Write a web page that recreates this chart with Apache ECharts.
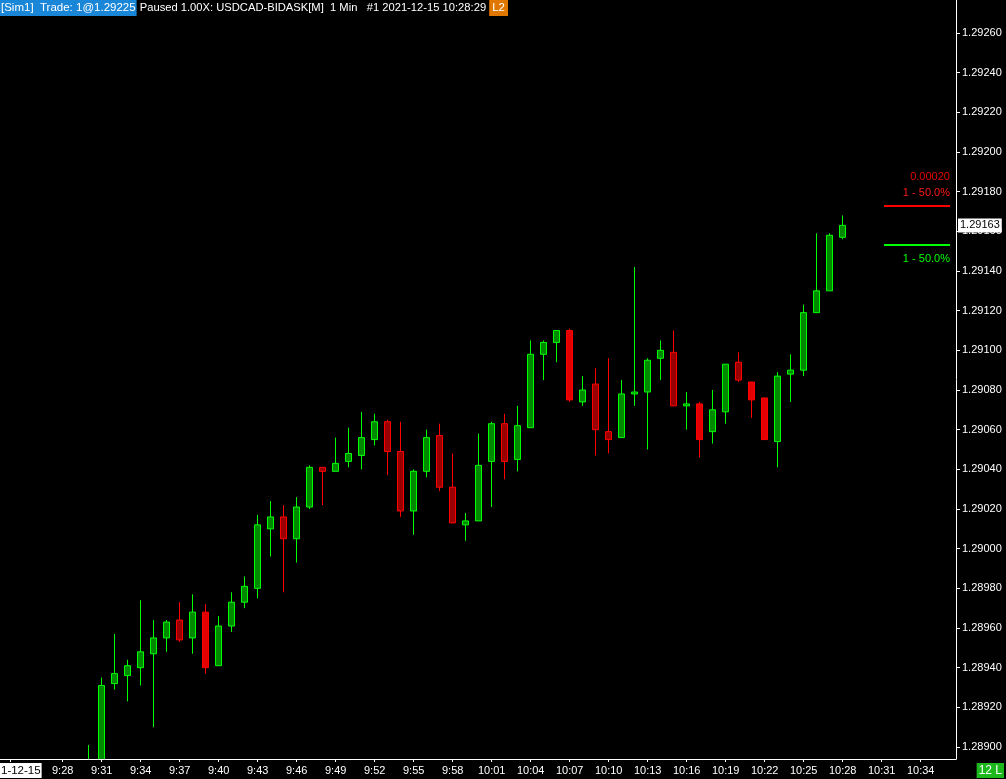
<!DOCTYPE html>
<html lang="en">
<head>
<meta charset="UTF-8">
<title>USDCAD-BIDASK 1 Min</title>
<script src="https://cdn.jsdelivr.net/npm/echarts@6/dist/echarts.min.js"></script>
<style>
html, body {margin: 0; padding: 0; background: #000;}
#main {width: 1006px; height: 779px;}
</style>
</head>
<body>
<div id="main"></div>
<script>
// one bar per minute, 9:30 .. 10:28
var times = ['9:30','9:31','9:32','9:33','9:34','9:35','9:36','9:37','9:38','9:39',
    '9:40','9:41','9:42','9:43','9:44','9:45','9:46','9:47','9:48','9:49',
    '9:50','9:51','9:52','9:53','9:54','9:55','9:56','9:57','9:58','9:59',
    '10:00','10:01','10:02','10:03','10:04','10:05','10:06','10:07','10:08','10:09',
    '10:10','10:11','10:12','10:13','10:14','10:15','10:16','10:17','10:18','10:19',
    '10:20','10:21','10:22','10:23','10:24','10:25','10:26','10:27','10:28'];
var opens = [1.28870,1.28884,1.28932,1.28936,1.28940,1.28947,1.28955,1.28964,1.28955,1.28968,
    1.28941,1.28961,1.28973,1.28980,1.29010,1.29016,1.29005,1.29021,1.29041,1.29039,
    1.29044,1.29047,1.29055,1.29064,1.29049,1.29019,1.29039,1.29057,1.29031,1.29012,
    1.29014,1.29044,1.29063,1.29045,1.29061,1.29098,1.29104,1.29110,1.29074,1.29083,
    1.29059,1.29056,1.29078,1.29079,1.29096,1.29099,1.29072,1.29073,1.29059,1.29069,
    1.29094,1.29084,1.29076,1.29054,1.29088,1.29090,1.29119,1.29130,1.29157];
var closes = [1.28885,1.28931,1.28937,1.28941,1.28948,1.28955,1.28963,1.28954,1.28968,1.28940,
    1.28961,1.28973,1.28981,1.29012,1.29016,1.29005,1.29021,1.29041,1.29039,1.29043,
    1.29048,1.29056,1.29064,1.29049,1.29019,1.29039,1.29056,1.29031,1.29013,1.29014,
    1.29042,1.29063,1.29044,1.29062,1.29098,1.29104,1.29110,1.29075,1.29080,1.29060,
    1.29055,1.29078,1.29079,1.29095,1.29100,1.29072,1.29073,1.29055,1.29070,1.29093,
    1.29085,1.29075,1.29055,1.29087,1.29090,1.29119,1.29130,1.29158,1.29163];
var lows = [1.28860,1.28880,1.28929,1.28923,1.28931,1.28910,1.28948,1.28953,1.28947,1.28937,
    1.28941,1.28958,1.28970,1.28975,1.28996,1.28978,1.28993,1.29020,1.29022,1.29039,
    1.29041,1.29040,1.29052,1.29037,1.29016,1.29007,1.29036,1.29029,1.29013,1.29004,
    1.29014,1.29021,1.29035,1.29039,1.29061,1.29085,1.29094,1.29074,1.29072,1.29047,
    1.29048,1.29056,1.29072,1.29050,1.29085,1.29072,1.29060,1.29046,1.29053,1.29063,
    1.29084,1.29066,1.29055,1.29041,1.29074,1.29087,1.29119,1.29130,1.29156];
var highs = [1.28901,1.28935,1.28957,1.28944,1.28974,1.28964,1.28964,1.28973,1.28977,1.28972,
    1.28966,1.28978,1.28986,1.29017,1.29024,1.29022,1.29026,1.29042,1.29041,1.29056,
    1.29061,1.29069,1.29068,1.29065,1.29064,1.29040,1.29060,1.29063,1.29048,1.29018,
    1.29058,1.29064,1.29068,1.29072,1.29105,1.29105,1.29110,1.29111,1.29087,1.29091,
    1.29096,1.29085,1.29142,1.29096,1.29105,1.29110,1.29079,1.29074,1.29080,1.29093,
    1.29099,1.29084,1.29076,1.29089,1.29098,1.29123,1.29159,1.29159,1.29168];

var xTickLabels = ['9:28','9:31','9:34','9:37','9:40','9:43','9:46','9:49','9:52','9:55','9:58',
    '10:01','10:04','10:07','10:10','10:13','10:16','10:19','10:22','10:25','10:28','10:31','10:34'];
var dateTick = '9:24';
var yTickLabels = ['1.28900','1.28920','1.28940','1.28960','1.28980','1.29000','1.29020','1.29040',
    '1.29060','1.29080','1.29100','1.29120','1.29140','1.29160','1.29180','1.29200','1.29220',
    '1.29240','1.29260'];

var lastPrice = 1.29163;
var targetHigh = 1.29173;
var targetLow = 1.29153;

// minutes after 9:00
function toMin(t) {
    var p = t.split(':');
    return (+p[0]) * 60 + (+p[1]) - 540;
}
function fmtMin(v) {
    var m = Math.round(v) + 540;
    var mm = m % 60;
    return Math.floor(m / 60) + ':' + (mm < 10 ? '0' + mm : mm);
}

// down bars drawn with the lighter red body
var brightDown = ['9:39', '10:07', '10:17', '10:21', '10:22'];

var bars = [];
for (var i = 0; i < times.length; i++) {
    var item = {value: [toMin(times[i]), opens[i], closes[i], lows[i], highs[i]]};
    if (brightDown.indexOf(times[i]) >= 0) {
        item.itemStyle = {color0: '#e40000'};
    }
    bars.push(item);
}

var font = 'Liberation Sans';
var xMin = 23.177, xMax = 96.715;
var myChart = echarts.init(document.getElementById('main'));

myChart.setOption({
    backgroundColor: '#000',
    animation: false,
    textStyle: {fontFamily: font},
    title: {
        left: 0,
        top: 0,
        padding: 0,
        text: '{sel|[Sim1]  Trade: 1@1.29225} Paused 1.00X: USDCAD-BIDASK[M]  1 Min   #1 2021-12-15 10:28:29 {l2|L2}',
        textStyle: {
            color: '#fff',
            fontSize: 11.2,
            fontWeight: 'normal',
            fontFamily: font,
            rich: {
                sel: {backgroundColor: '#1a86d8', color: '#fff', fontSize: 11.5, fontFamily: font, padding: [2, 1, 2, 1]},
                l2: {backgroundColor: '#e07800', color: '#fff', fontSize: 11.5, fontFamily: font, padding: [2, 3, 2, 3]}
            }
        }
    },
    graphic: [
        {
            // hides the part of the first bars that runs below the time axis
            type: 'rect',
            z: 3,
            shape: {x: 0, y: 760, width: 956, height: 19},
            style: {fill: '#000'}
        },
        {
            type: 'text',
            z: 6,
            left: 0,
            bottom: 1,
            style: {
                text: '1-12-15',
                fill: '#000',
                backgroundColor: '#fff',
                font: '11.5px ' + font,
                padding: [2, 1, 1, 1]
            }
        },
        {
            type: 'text',
            z: 6,
            right: 2,
            bottom: 1,
            style: {
                text: '12 L',
                fill: '#fff',
                backgroundColor: '#1cb81c',
                font: '12px ' + font,
                padding: [2, 2, 1, 2]
            }
        }
    ],
    grid: {left: 0, right: 50, top: 0, bottom: 20},
    xAxis: {
        type: 'value',
        z: 4,
        min: xMin,
        max: xMax,
        axisLine: {show: true, onZero: false, lineStyle: {color: '#fff', width: 1}},
        axisTick: {
            show: true,
            length: 3,
            lineStyle: {color: '#fff'},
            customValues: [toMin(dateTick)].concat(xTickLabels.map(toMin))
        },
        axisLabel: {
            color: '#fff',
            fontSize: 11,
            fontFamily: font,
            margin: 6,
            customValues: xTickLabels.map(toMin),
            formatter: function (v) { return fmtMin(v); }
        },
        splitLine: {show: false}
    },
    yAxis: {
        type: 'value',
        position: 'right',
        min: 1.2889395,
        max: 1.2927664,
        axisLine: {show: true, lineStyle: {color: '#fff', width: 1}},
        axisTick: {
            show: true,
            length: 4,
            lineStyle: {color: '#fff'},
            customValues: yTickLabels.map(parseFloat)
        },
        axisLabel: {
            color: '#fff',
            fontSize: 11,
            fontFamily: font,
            margin: 6,
            customValues: yTickLabels.map(parseFloat),
            formatter: function (v) { return v.toFixed(5); }
        },
        splitLine: {show: false}
    },
    series: [
        {
            name: 'USDCAD-BIDASK',
            type: 'candlestick',
            data: bars,
            barWidth: 6,
            itemStyle: {
                color: '#008800',
                color0: '#990000',
                borderColor: '#00ff00',
                borderColor0: '#ff0000',
                borderWidth: 1
            },
            markLine: {
                silent: true,
                symbol: ['none', 'none'],
                animation: false,
                data: [
                    [
                        {
                            coord: [xMin, lastPrice],
                            lineStyle: {width: 0},
                            label: {
                                show: true,
                                position: 'end',
                                distance: 2,
                                formatter: lastPrice.toFixed(5),
                                color: '#000',
                                backgroundColor: '#fff',
                                fontSize: 11,
                                fontFamily: font,
                                padding: [2, 2, 1, 2]
                            }
                        },
                        {coord: [xMax, lastPrice]}
                    ],
                    [
                        {
                            coord: [91.18, targetHigh],
                            lineStyle: {color: '#ff0000', width: 2, type: 'solid'},
                            label: {
                                show: true,
                                position: 'insideEndTop',
                                distance: [0, 5],
                                formatter: '{a|0.00020}\n{b|1 - 50.0%}',
                                rich: {
                                    a: {color: '#e80000', fontSize: 11, fontFamily: font, lineHeight: 16, align: 'right'},
                                    b: {color: '#ff1a1a', fontSize: 11, fontFamily: font, lineHeight: 16, align: 'right'}
                                }
                            }
                        },
                        {coord: [96.25, targetHigh]}
                    ],
                    [
                        {
                            coord: [91.18, targetLow],
                            lineStyle: {color: '#00ff00', width: 2, type: 'solid'},
                            label: {
                                show: true,
                                position: 'insideEndBottom',
                                distance: [0, 8],
                                formatter: '1 - 50.0%',
                                color: '#00ff00',
                                fontSize: 11,
                                fontFamily: font
                            }
                        },
                        {coord: [96.25, targetLow]}
                    ]
                ]
            }
        }
    ]
});
</script>
</body>
</html>
